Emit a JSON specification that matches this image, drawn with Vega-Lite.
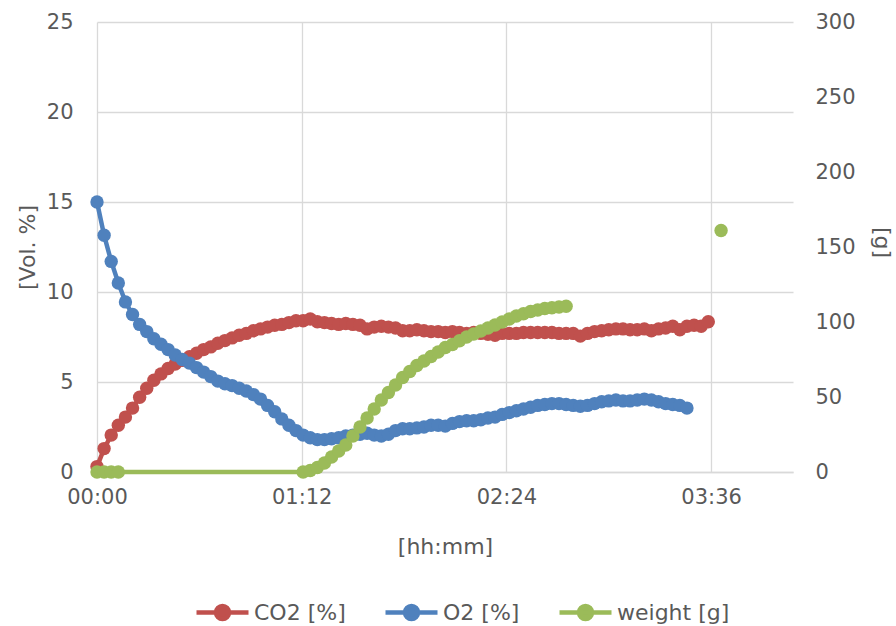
{
  "$schema": "https://vega.github.io/schema/vega-lite/v6.json",
  "width": 696,
  "height": 450,
  "autosize": "none",
  "padding": {"left": 97, "top": 22, "right": 103, "bottom": 154},
  "background": "white",
  "config": {
    "view": {"stroke": null},
    "font": "DejaVu Sans",
    "axis": {
      "labelFontSize": 21,
      "labelColor": "#595959",
      "titleFontSize": 22,
      "titleFontWeight": "normal",
      "titleColor": "#595959",
      "gridColor": "#d9d9d9",
      "gridWidth": 1.3,
      "ticks": false,
      "domain": false,
      "labelFlush": false
    }
  },
  "data": {
    "values": [
      {"t": 0, "co2": 0.3, "o2": 15.0, "w": 0},
      {"t": 2.5, "co2": 1.3, "o2": 13.15, "w": 0},
      {"t": 5, "co2": 2.05, "o2": 11.7, "w": 0},
      {"t": 7.5, "co2": 2.6, "o2": 10.5, "w": 0},
      {"t": 10, "co2": 3.05, "o2": 9.45},
      {"t": 12.5, "co2": 3.55, "o2": 8.75},
      {"t": 15, "co2": 4.15, "o2": 8.2},
      {"t": 17.5, "co2": 4.65, "o2": 7.8},
      {"t": 20, "co2": 5.1, "o2": 7.4},
      {"t": 22.5, "co2": 5.45, "o2": 7.1},
      {"t": 25, "co2": 5.75, "o2": 6.8},
      {"t": 27.5, "co2": 6.0, "o2": 6.5},
      {"t": 30, "co2": 6.2, "o2": 6.25},
      {"t": 32.5, "co2": 6.4, "o2": 6.05},
      {"t": 35, "co2": 6.6, "o2": 5.8},
      {"t": 37.5, "co2": 6.8, "o2": 5.55},
      {"t": 40, "co2": 6.95, "o2": 5.3},
      {"t": 42.5, "co2": 7.15, "o2": 5.05},
      {"t": 45, "co2": 7.3, "o2": 4.9},
      {"t": 47.5, "co2": 7.45, "o2": 4.8},
      {"t": 50, "co2": 7.6, "o2": 4.65},
      {"t": 52.5, "co2": 7.7, "o2": 4.5},
      {"t": 55, "co2": 7.85, "o2": 4.3},
      {"t": 57.5, "co2": 7.95, "o2": 4.05},
      {"t": 60, "co2": 8.05, "o2": 3.7},
      {"t": 62.5, "co2": 8.15, "o2": 3.35},
      {"t": 65, "co2": 8.2, "o2": 2.95},
      {"t": 67.5, "co2": 8.3, "o2": 2.6},
      {"t": 70, "co2": 8.4, "o2": 2.3},
      {"t": 72.5, "co2": 8.4, "o2": 2.05, "w": 0},
      {"t": 75, "co2": 8.5, "o2": 1.9, "w": 1},
      {"t": 77.5, "co2": 8.35, "o2": 1.8, "w": 3},
      {"t": 80, "co2": 8.3, "o2": 1.8, "w": 6},
      {"t": 82.5, "co2": 8.25, "o2": 1.85, "w": 10},
      {"t": 85, "co2": 8.2, "o2": 1.9, "w": 14},
      {"t": 87.5, "co2": 8.25, "o2": 2.0, "w": 18},
      {"t": 90, "co2": 8.2, "o2": 2.05, "w": 24},
      {"t": 92.5, "co2": 8.15, "o2": 2.1, "w": 30},
      {"t": 95, "co2": 7.95, "o2": 2.15, "w": 36},
      {"t": 97.5, "co2": 8.05, "o2": 2.05, "w": 42},
      {"t": 100, "co2": 8.1, "o2": 2.0, "w": 48},
      {"t": 102.5, "co2": 8.05, "o2": 2.1, "w": 53},
      {"t": 105, "co2": 8.0, "o2": 2.3, "w": 58},
      {"t": 107.5, "co2": 7.85, "o2": 2.4, "w": 63},
      {"t": 110, "co2": 7.85, "o2": 2.4, "w": 67},
      {"t": 112.5, "co2": 7.9, "o2": 2.45, "w": 71},
      {"t": 115, "co2": 7.85, "o2": 2.5, "w": 74},
      {"t": 117.5, "co2": 7.8, "o2": 2.6, "w": 77},
      {"t": 120, "co2": 7.8, "o2": 2.6, "w": 80},
      {"t": 122.5, "co2": 7.75, "o2": 2.55, "w": 83},
      {"t": 125, "co2": 7.8, "o2": 2.7, "w": 85},
      {"t": 127.5, "co2": 7.75, "o2": 2.8, "w": 87.5},
      {"t": 130, "co2": 7.7, "o2": 2.85, "w": 90},
      {"t": 132.5, "co2": 7.75, "o2": 2.85, "w": 92},
      {"t": 135, "co2": 7.7, "o2": 2.9, "w": 94},
      {"t": 137.5, "co2": 7.65, "o2": 3.0, "w": 96},
      {"t": 140, "co2": 7.6, "o2": 3.05, "w": 98},
      {"t": 142.5, "co2": 7.7, "o2": 3.2, "w": 100},
      {"t": 145, "co2": 7.7, "o2": 3.3, "w": 102},
      {"t": 147.5, "co2": 7.7, "o2": 3.4, "w": 104},
      {"t": 150, "co2": 7.75, "o2": 3.5, "w": 105.5},
      {"t": 152.5, "co2": 7.75, "o2": 3.6, "w": 107},
      {"t": 155, "co2": 7.75, "o2": 3.7, "w": 108},
      {"t": 157.5, "co2": 7.75, "o2": 3.75, "w": 109},
      {"t": 160, "co2": 7.75, "o2": 3.8, "w": 109.5},
      {"t": 162.5, "co2": 7.7, "o2": 3.8, "w": 110},
      {"t": 165, "co2": 7.7, "o2": 3.75, "w": 110.5},
      {"t": 167.5, "co2": 7.7, "o2": 3.7},
      {"t": 170, "co2": 7.55, "o2": 3.65},
      {"t": 172.5, "co2": 7.7, "o2": 3.7},
      {"t": 175, "co2": 7.8, "o2": 3.8},
      {"t": 177.5, "co2": 7.85, "o2": 3.9},
      {"t": 180, "co2": 7.9, "o2": 3.95},
      {"t": 182.5, "co2": 7.95, "o2": 4.0},
      {"t": 185, "co2": 7.95, "o2": 3.95},
      {"t": 187.5, "co2": 7.9, "o2": 3.95},
      {"t": 190, "co2": 7.9, "o2": 4.0},
      {"t": 192.5, "co2": 7.95, "o2": 4.05},
      {"t": 195, "co2": 7.85, "o2": 4.0},
      {"t": 197.5, "co2": 7.95, "o2": 3.9},
      {"t": 200, "co2": 8.0, "o2": 3.8},
      {"t": 202.5, "co2": 8.1, "o2": 3.75},
      {"t": 205, "co2": 7.9, "o2": 3.7},
      {"t": 207.5, "co2": 8.1, "o2": 3.55},
      {"t": 210, "co2": 8.15},
      {"t": 212.5, "co2": 8.1},
      {"t": 215, "co2": 8.35},
      {"t": 219.5, "w": 161}
    ]
  },
  "encoding": {
    "x": {
      "field": "t",
      "type": "quantitative",
      "scale": {"domain": [0, 244.8], "nice": false, "zero": false},
      "axis": {
        "values": [0, 72, 144, 216],
        "labelExpr": "utcFormat(datum.value * 60000, '%H:%M')",
        "grid": true,
        "domain": true,
        "domainColor": "#d9d9d9",
        "domainWidth": 1.3,
        "labelPadding": 14,
        "labelFlush": false,
        "title": "[hh:mm]",
        "titleY": 74,
        "titleBaseline": "middle"
      }
    }
  },
  "layer": [
    {
      "layer": [
        {
          "transform": [{"filter": "isValid(datum.co2)"}],
          "mark": {"type": "line", "strokeWidth": 4.5, "point": {"filled": true, "size": 180, "opacity": 1}},
          "encoding": {
            "y": {
              "field": "co2", "type": "quantitative",
              "scale": {"domain": [0, 25], "nice": false},
              "axis": {"values": [0, 5, 10, 15, 20, 25], "grid": true, "labelPadding": 24, "title": "[Vol. %]", "titleX": -70, "titleY": 225, "titleAngle": -90, "titleBaseline": "middle", "titleAlign": "center"}
            },
            "color": {
              "datum": "co2",
              "scale": {"domain": ["co2", "o2", "w"], "range": ["#C0504D", "#4F81BD", "#9BBB59"]},
              "legend": {
                "orient": "none",
                "legendX": 97,
                "legendY": 562,
                "direction": "horizontal",
                "title": null,
                "padding": 0,
                "columnPadding": 30,
                "labelOffset": 3,
                "labelFontSize": 22,
                "labelColor": "#595959",
                "labelExpr": "datum.label == 'co2' ? 'CO2 [%]' : datum.label == 'o2' ? 'O2 [%]' : 'weight [g]'",
                "symbolType": "M-1,0L1,0M-0.25,0A0.25,0.25,0,1,1,0.25,0A0.25,0.25,0,1,1,-0.25,0Z",
                "symbolSize": 2704,
                "symbolStrokeWidth": 4,
                "encode": {
                  "symbols": {
                    "update": {
                      "fill": {"scale": "color", "field": "value"},
                      "stroke": {"scale": "color", "field": "value"},
                      "strokeWidth": {"value": 4.5},
                      "opacity": {"value": 1},
                      "shape": {"value": "M-1,0L1,0M-0.25,0A0.25,0.25,0,1,1,0.25,0A0.25,0.25,0,1,1,-0.25,0Z"},
                      "size": {"value": 2704}
                    }
                  }
                }
              }
            }
          }
        },
        {
          "transform": [{"filter": "isValid(datum.o2)"}],
          "mark": {"type": "line", "strokeWidth": 4.5, "point": {"filled": true, "size": 180, "opacity": 1}},
          "encoding": {
            "y": {
              "field": "o2", "type": "quantitative",
              "scale": {"domain": [0, 25], "nice": false},
              "axis": {"values": [0, 5, 10, 15, 20, 25], "grid": true, "labelPadding": 24, "title": "[Vol. %]", "titleX": -70, "titleY": 225, "titleAngle": -90, "titleBaseline": "middle", "titleAlign": "center"}
            },
            "color": {"datum": "o2"}
          }
        }
      ]
    },
    {
      "layer": [
        {
          "transform": [{"filter": "isValid(datum.w) && datum.t < 200"}],
          "mark": {"type": "line", "strokeWidth": 4.5, "point": {"filled": true, "size": 180, "opacity": 1}},
          "encoding": {
            "y": {
              "field": "w", "type": "quantitative",
              "scale": {"domain": [0, 300], "nice": false},
              "axis": {"orient": "right", "values": [0, 50, 100, 150, 200, 250, 300], "grid": false, "labelPadding": 22, "title": "[g]", "titleX": 88, "titleY": 220, "titleAngle": 90, "titleBaseline": "middle", "titleAlign": "center"}
            },
            "color": {"datum": "w"}
          }
        },
        {
          "transform": [{"filter": "isValid(datum.w) && datum.t > 200"}],
          "mark": {"type": "point", "filled": true, "size": 180, "opacity": 1},
          "encoding": {
            "y": {
              "field": "w", "type": "quantitative",
              "scale": {"domain": [0, 300], "nice": false},
              "axis": {"orient": "right", "values": [0, 50, 100, 150, 200, 250, 300], "grid": false, "labelPadding": 22, "title": "[g]", "titleX": 88, "titleY": 220, "titleAngle": 90, "titleBaseline": "middle", "titleAlign": "center"}
            },
            "color": {"datum": "w"}
          }
        }
      ]
    }
  ],
  "resolve": {"scale": {"y": "independent"}}
}
